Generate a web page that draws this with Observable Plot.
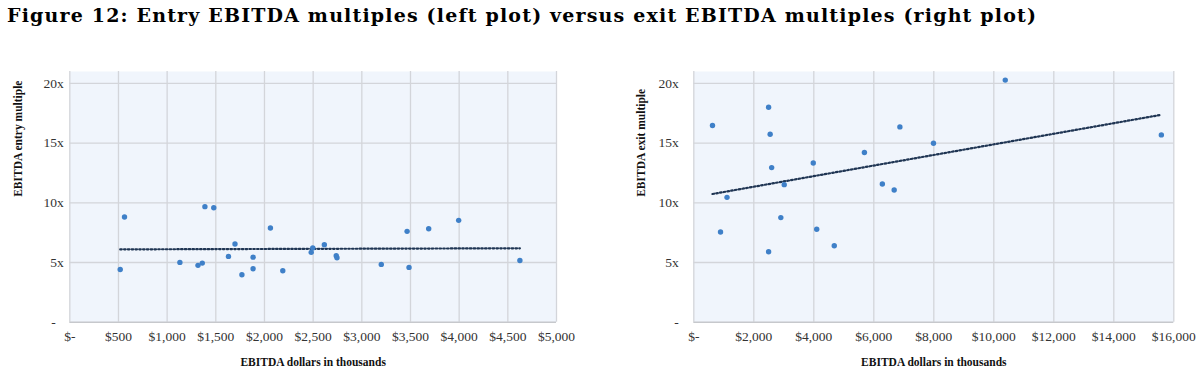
<!DOCTYPE html>
<html><head><meta charset="utf-8">
<script src="https://cdn.jsdelivr.net/npm/d3@7"></script>
<script src="https://cdn.jsdelivr.net/npm/@observablehq/plot@0.6"></script>
<style>
body{margin:0;background:#fff;width:1200px;height:379px;overflow:hidden;position:relative;font-family:"Liberation Serif",serif}
#title{position:absolute;left:0;top:0}
#left{position:absolute;left:0;top:50px}
#right{position:absolute;left:600px;top:50px}
</style></head><body>
<svg id="title" width="1200" height="40"><text id="titleText" x="7" y="22" style="font-family:'DejaVu Serif',serif;font-weight:bold;font-size:19px" fill="#000" textLength="1029" lengthAdjust="spacing"></text></svg>
<div id="left"></div><div id="right"></div>
<script>
const titleText = "Figure 12: Entry EBITDA multiples (left plot) versus exit EBITDA multiples (right plot)";
const leftYLabel = "EBITDA entry multiple";
const rightYLabel = "EBITDA exit multiple";
const xLabel = "EBITDA dollars in thousands";

// Entry (left plot): EBITDA ($000s) vs entry multiple
const entryX = [518, 562, 1131, 1317, 1361, 1388, 1479, 1630, 1697, 1768, 1883, 1883, 2061, 2188, 2480, 2496, 2615, 2737, 2745, 3200, 3465, 3485, 3687, 3995, 4624];
const entryY = [4.42, 8.81, 5.01, 4.76, 4.95, 9.68, 9.59, 5.51, 6.55, 3.97, 5.45, 4.48, 7.89, 4.31, 5.85, 6.21, 6.49, 5.57, 5.40, 4.84, 7.61, 4.59, 7.83, 8.53, 5.17];

// Exit (right plot): EBITDA ($000s) vs exit multiple
const exitX = [623, 891, 1107, 2494, 2545, 2494, 2595, 2901, 3015, 3982, 4097, 4682, 5687, 6285, 6679, 6870, 7990, 10382, 15585];
const exitY = [16.48, 7.55, 10.46, 18.01, 15.75, 5.90, 12.95, 8.76, 11.52, 13.34, 7.78, 6.41, 14.21, 11.58, 11.08, 16.36, 14.99, 20.28, 15.69];

const entryTicksX = [0, 500, 1000, 1500, 2000, 2500, 3000, 3500, 4000, 4500, 5000];
const exitTicksX = [0, 2000, 4000, 6000, 8000, 10000, 12000, 14000, 16000];
const yTicks = [5, 10, 15, 20];
const yZeroTick = [0];

document.getElementById("titleText").textContent = titleText;

const fmtX = d => d === 0 ? "$-" : "$" + d3.format(",")(d);

function makeChart({xs, ys, xTicks, yLabel, marginLeft, marginRight, yPad, zeroPad, yLabelDx}) {
  const data = xs.map((x, i) => ({x, y: ys[i]}));
  const xmax = xTicks[xTicks.length - 1];
  return Plot.plot({
    width: 600, height: 329,
    marginTop: 21, marginBottom: 57.3, marginLeft, marginRight,
    style: {fontFamily: "Liberation Serif", fontSize: "13.5px", color: "#333", background: "transparent"},
    x: {domain: [0, xmax]},
    y: {domain: [0, 21]},
    marks: [
      Plot.frame({fill: "#f0f5fc", stroke: null}),
      Plot.gridX(xTicks, {stroke: "#d3d5da", strokeOpacity: 1, strokeWidth: 1.3}),
      Plot.gridY(yTicks, {stroke: "#d3d5da", strokeOpacity: 1, strokeWidth: 1.3}),
      Plot.ruleY(yZeroTick, {stroke: "#c6c8cc", strokeWidth: 1.5}),
      Plot.axisX(xTicks, {tickSize: 0, tickPadding: 9, tickFormat: fmtX, label: null}),
      Plot.axisY(yTicks, {tickSize: 0, tickPadding: yPad, tickFormat: d => d + "x", label: null}),
      Plot.axisY(yZeroTick, {tickSize: 0, tickPadding: zeroPad, tickFormat: () => "-", label: null}),
      Plot.linearRegressionY(data, {x: "x", y: "y", ci: 0, stroke: "#1f3553", strokeWidth: 2.2, strokeDasharray: "1.6,2.2"}),
      Plot.dot(data, {x: "x", y: "y", r: 2.7, fill: "#3f80c8", stroke: null}),
      Plot.text([xLabel], {frameAnchor: "bottom", dy: 44, fontWeight: "bold", fontSize: 11.5, fill: "#111"}),
      Plot.text([yLabel], {frameAnchor: "left", dx: yLabelDx, rotate: -90, fontWeight: "bold", fontSize: 11.5, fill: "#111"})
    ]
  });
}

document.getElementById("left").append(makeChart({
  xs: entryX, ys: entryY, xTicks: entryTicksX, yLabel: leftYLabel,
  marginLeft: 69.3, marginRight: 44, yPad: 6, zeroPad: 14, yLabelDx: -51.3
}));
document.getElementById("right").append(makeChart({
  xs: exitX, ys: exitY, xTicks: exitTicksX, yLabel: rightYLabel,
  marginLeft: 93.3, marginRight: 26.7, yPad: 15, zeroPad: 15, yLabelDx: -52.3
}));
</script>
</body></html>
